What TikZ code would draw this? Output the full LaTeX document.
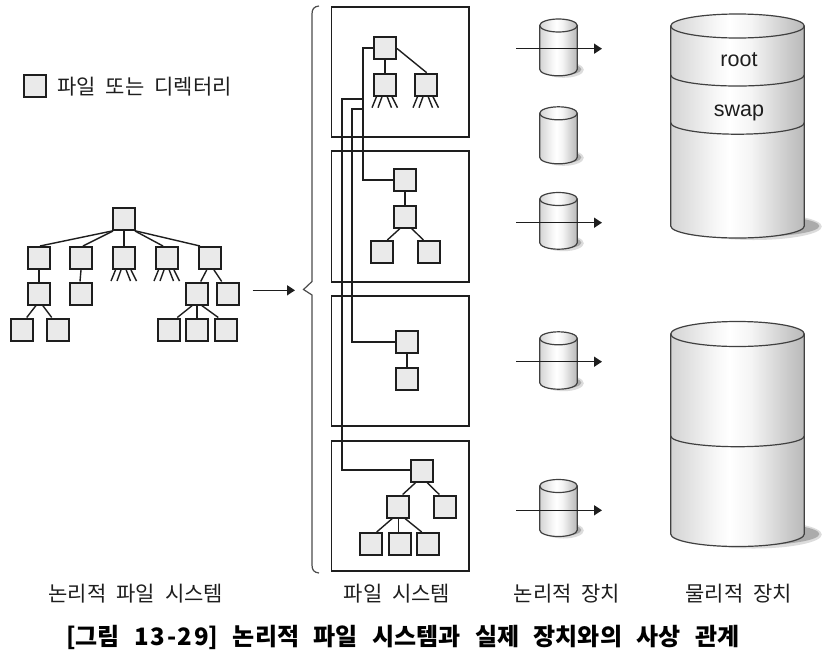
\documentclass[tikz,border=0pt]{standalone}
\usepackage{fontspec}
\usetikzlibrary{arrows.meta}
\setmainfont{Noto Sans CJK KR}
\newfontfamily\latinfont{Liberation Sans}
\definecolor{ink}{HTML}{1E1E1E}
\definecolor{sqfill}{HTML}{EAEAEA}
\pgfdeclarehorizontalshading{cylshade}{100bp}{
  color(0bp)=(black!17); color(25bp)=(black!17); color(42bp)=(black!3);
  color(47bp)=(white); color(55bp)=(black!4); color(70bp)=(black!22); color(75bp)=(black!27); color(100bp)=(black!27)}
\tikzset{
  sq/.style={draw=ink,fill=sqfill,line width=2pt,minimum size=22pt,inner sep=0pt},
  fsbox/.style={draw=ink,line width=1.8pt,minimum width=137.5pt,minimum height=130.5pt,inner sep=0pt},
  link/.style={draw=ink,line width=1.4pt},
  wire/.style={draw=ink,line width=1.8pt},
  flow/.style={draw=ink,line width=1.5pt,-{Triangle[length=8pt,width=10pt]}},
  lbl/.style={text=ink,inner sep=0pt,font=\fontsize{21}{25}\selectfont},
  captiontext/.style={text=black,inner sep=0pt,font=\fontsize{24}{29}\selectfont\bfseries},
  disklabel/.style={text=ink,inner sep=0pt,font=\fontsize{21.5}{26}\selectfont\latinfont},
  cyledge/.style={draw=black!75,line width=1.2pt}
}
% x centre, top-cap centre y, bottom-cap centre y, rx, ry, shadow offset
\newcommand{\drum}[6]{
  \fill[black!30,opacity=.45] (#1+#6+1,#3+.5) ellipse ({#4+1.5} and {#5+1.5});
  \fill[black!35,opacity=.9] (#1+#6,#3) ellipse ({#4} and {#5*.9});
  \shade[shading=cylshade] (#1-#4,#2) -- (#1-#4,#3) arc[start angle=180,end angle=360,x radius=#4,y radius=-#5] -- (#1+#4,#2) arc[start angle=0,end angle=-180,x radius=#4,y radius=-#5] -- cycle;
  \shade[shading=cylshade] (#1,#2) ellipse ({#4} and {#5});
  \draw[cyledge] (#1,#2) ellipse ({#4} and {#5});
  \draw[cyledge] (#1-#4,#2) -- (#1-#4,#3) arc[start angle=180,end angle=360,x radius=#4,y radius=-#5] -- (#1+#4,#2);
}
% x centre, side y, rx, ry
\newcommand{\band}[4]{\draw[cyledge] (#1-#3,#2) arc[start angle=180,end angle=360,x radius=#3,y radius=-#4];}
\newcommand{\fan}[1]{
  \draw[link] ([xshift=-8.5pt]#1.south) -- ([xshift=-13pt,yshift=-11pt]#1.south);
  \draw[link] ([xshift=-3pt]#1.south) -- ([xshift=-7pt,yshift=-11pt]#1.south);
  \draw[link] ([xshift=2.2pt]#1.south) -- ([xshift=6.5pt,yshift=-11pt]#1.south);
  \draw[link] ([xshift=7pt]#1.south) -- ([xshift=12.5pt,yshift=-11pt]#1.south);
}
\newcommand{\wgap}{\hspace{10pt}}
\newcommand{\cgap}{\hspace{14.5pt}}
\begin{document}
\begin{tikzpicture}[x=1pt,y=-1pt]
\useasboundingbox[fill=white] (0,0) rectangle (824,667);

% legend
\node[sq] (legend) at (35,86) {};
\node[lbl,anchor=west] (legendtext) at (57,87) {파일\wgap 또는\wgap 디렉터리};

% left tree
\node[sq] (r) at (124,219) {};
\node[sq] (a) at (39,258) {};
\node[sq] (b) at (81,258) {};
\node[sq] (c) at (124,258) {};
\node[sq] (d) at (167,258) {};
\node[sq] (e) at (210,258) {};
\node[sq] (a1) at (39,293.5) {};
\node[sq] (b1) at (80.5,293.5) {};
\node[sq] (e1) at (197,293.5) {};
\node[sq] (e2) at (228,293.5) {};
\node[sq] (k1) at (22,329.5) {};
\node[sq] (k2) at (58,329.5) {};
\node[sq] (k3) at (169,329.5) {};
\node[sq] (k4) at (197,329.5) {};
\node[sq] (k5) at (226,329.5) {};
\draw[link] ([xshift=-12pt]r.south) -- ([xshift=1pt]a.north);
\draw[link] ([xshift=-11pt]r.south) -- ([xshift=2pt]b.north);
\draw[link] (r.south) -- (c.north);
\draw[link] ([xshift=11pt]r.south) -- ([xshift=-4pt]d.north);
\draw[link] ([xshift=12pt]r.south) -- ([xshift=-10pt]e.north);
\draw[link] (a.south) -- (a1.north);
\draw[link] (b.south) -- ([xshift=-.5pt]b1.north);
\draw[link] ([xshift=-3pt]a1.south) -- ([xshift=4.7pt]k1.north);
\draw[link] ([xshift=3.7pt]a1.south) -- ([xshift=-6.3pt]k2.north);
\draw[link] ([xshift=-3.3pt]e.south) -- ([xshift=3.7pt]e1.north);
\draw[link] ([xshift=4pt]e.south) -- ([xshift=-6.3pt]e2.north);
\draw[link] ([xshift=-4.7pt]e1.south) -- ([xshift=8.3pt]k3.north);
\draw[link] (e1.south) -- (k4.north);
\draw[link] ([xshift=4.7pt]e1.south) -- ([xshift=-7.7pt]k5.north);
\fan{c}
\fan{d}

% brace
\coordinate (bracetip) at (303.5,289.5);
\coordinate (arrowstart) at (252.7,290.3);
\draw[flow] (arrowstart) -- (295,290.3);
\draw[draw=black!70,line width=1.2pt] (319,6) .. controls (314,6.5) and (312,9) .. (312,14) -- (312,281.5) -- (bracetip) -- (312,295) -- (312,565) .. controls (312,570) and (314,572.5) .. (319,573);

% file-system boxes
\node[fsbox] (fs1) at (400.3,72) {};
\node[fsbox] (fs2) at (400.3,216.5) {};
\node[fsbox] (fs3) at (400.3,361) {};
\node[fsbox] (fs4) at (400.3,506) {};

% squares in the boxes
\node[sq] (p) at (385,47.5) {};
\node[sq] (p1) at (385,84.7) {};
\node[sq] (p2) at (426,84.7) {};
\node[sq] (q) at (404.8,179.5) {};
\node[sq] (q0) at (404.8,216.5) {};
\node[sq] (q1) at (381.8,252) {};
\node[sq] (q2) at (429.2,252) {};
\node[sq] (s) at (407,342) {};
\node[sq] (s1) at (407,379) {};
\node[sq] (t) at (422.3,470.5) {};
\node[sq] (t1) at (398,506.5) {};
\node[sq] (t2) at (445,506.5) {};
\node[sq] (t3) at (370.5,544) {};
\node[sq] (t4) at (399.5,544) {};
\node[sq] (t5) at (428,544) {};
\draw[link] (p.south) -- (p1.north);
\draw[link] ([yshift=-1pt]p.east) -- ([xshift=.7pt]p2.north);
\draw[link] (q.south) -- (q0.north);
\draw[link] ([xshift=-4.8pt]q0.south) -- ([xshift=5.5pt]q1.north);
\draw[link] ([xshift=6.9pt]q0.south) -- ([xshift=-5.9pt]q2.north);
\draw[link] (s.south) -- (s1.north);
\draw[link] ([xshift=-6.6pt]t.south) -- ([xshift=4.7pt]t1.north);
\draw[link] ([xshift=4.7pt]t.south) -- ([xshift=-5.7pt]t2.north);
\draw[link] ([xshift=-5.7pt]t1.south) -- ([xshift=6.2pt]t3.north);
\draw[link] ([xshift=.3pt]t1.south) -- ([xshift=-1.2pt]t4.north);
\draw[link] ([xshift=7pt]t1.south) -- ([xshift=-6.3pt]t5.north);
\fan{p1}
\fan{p2}

% mount wires
\coordinate (jA) at (363,98.7);
\coordinate (jB) at (363,109);
\draw[wire] ([yshift=-.8pt]p.west) -- (363,48.3) -- (363,180) -- (q.west |- 0,180);
\draw[wire] (jA) -- (341.7,98.7) -- (341.7,470) -- (t.west |- 0,470);
\draw[wire] (jB) -- (351.7,109) -- (351.7,342.3) -- (s.west |- 0,342.3);

% logical devices
\drum{558.5}{25.5}{69.3}{18.8}{6.5}{4}
\drum{558.5}{113.3}{157.3}{18.8}{6.5}{4}
\drum{558.5}{199}{242.7}{18.8}{6.5}{4}
\drum{558.5}{338.3}{382.7}{18.8}{6.5}{4}
\drum{558.5}{486}{530}{18.8}{6.5}{4}
\coordinate (d1a) at (516,48.7); \coordinate (d1b) at (602,48.7);
\coordinate (d3a) at (516,222.7); \coordinate (d3b) at (602,222.7);
\coordinate (d4a) at (516,361.7); \coordinate (d4b) at (602,361.7);
\coordinate (d5a) at (516,510.3); \coordinate (d5b) at (602,510.3);
\draw[flow] (d1a) -- (d1b);
\draw[flow] (d3a) -- (d3b);
\draw[flow] (d4a) -- (d4b);
\draw[flow] (d5a) -- (d5b);

% physical devices
\drum{737.5}{26}{226}{66.8}{12}{15}
\band{737.5}{75}{66.8}{11}
\band{737.5}{122.7}{66.8}{11.5}
\node[disklabel] (root) at (739,60) {root};
\node[disklabel] (swap) at (739,113) {swap};
\drum{737.5}{334}{534}{66.8}{12.5}{15}
\band{737.5}{436}{66.8}{10.7}

% labels
\node[lbl] (l1) at (135.8,594) {논리적\wgap 파일\wgap 시스템};
\node[lbl] (l2) at (397,594) {파일\wgap 시스템};
\node[lbl] (l3) at (567,594) {논리적\wgap 장치};
\node[lbl] (l4) at (738.7,594) {물리적\wgap 장치};
\node[captiontext,anchor=west] (title) at (66,637) {[그림\cgap{\addfontfeatures{LetterSpace=7}13-29}]\cgap 논리적\cgap 파일\cgap 시스템과\cgap 실제\cgap 장치와의\cgap 사상\cgap 관계};
\end{tikzpicture}
\end{document}
